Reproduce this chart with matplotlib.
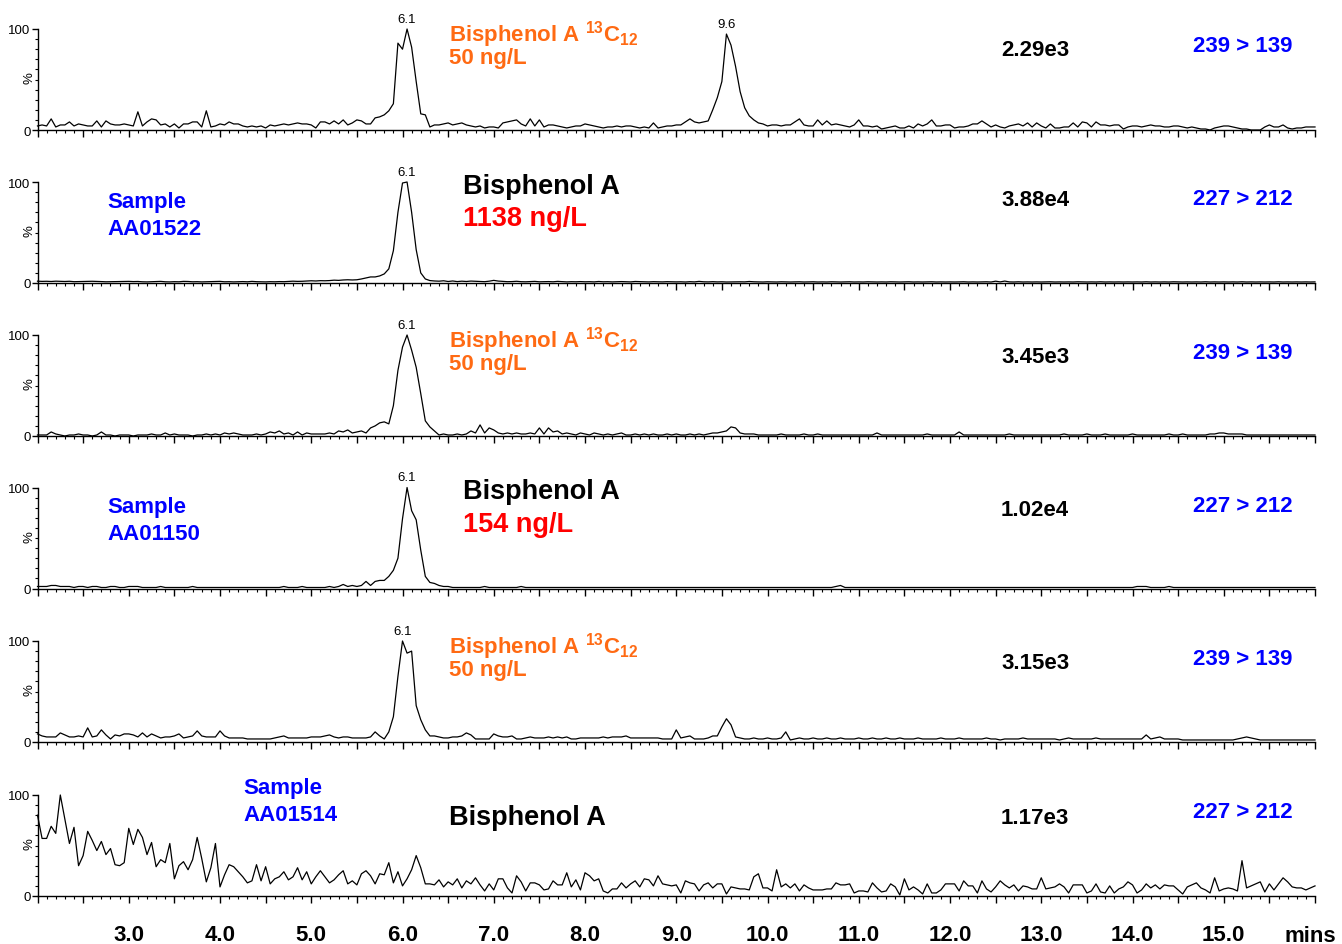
import numpy as np
import matplotlib
matplotlib.use("Agg")
import matplotlib.pyplot as plt
from matplotlib.ticker import MultipleLocator, FuncFormatter

plt.rcParams["font.family"] = ["Liberation Sans", "DejaVu Sans"]
plt.rcParams["mathtext.fontset"] = "custom"
plt.rcParams["mathtext.rm"] = "Liberation Sans:bold"
plt.rcParams["mathtext.default"] = "rm"

# retention time axis, one reading every 0.05 min
TIME = np.round(np.arange(281) * 0.05 + 2.0, 2)

# relative intensity (%) of each channel, one row per minute
TRACE_1 = [
    4, 5, 4, 11, 3, 5, 5, 8, 4, 6, 5, 4, 4, 9, 3, 9, 6, 5, 5, 6,
    5, 4, 18, 4, 8, 11, 10, 5, 6, 3, 6, 2, 6, 6, 8, 8, 3, 19, 3, 4,
    6, 5, 8, 6, 6, 4, 3, 4, 3, 4, 2, 5, 4, 5, 6, 5, 6, 7, 6, 6,
    5, 2, 8, 8, 6, 9, 6, 10, 5, 7, 10, 9, 6, 6, 12, 13, 15, 19, 26, 86,
    80, 100, 82, 48, 16, 15, 3, 5, 5, 6, 7, 5, 6, 7, 5, 4, 3, 4, 2, 3,
    3, 2, 7, 8, 9, 10, 6, 4, 11, 4, 10, 3, 5, 5, 4, 3, 2, 3, 4, 4,
    6, 5, 4, 3, 2, 3, 3, 4, 3, 4, 4, 3, 2, 3, 2, 7, 2, 3, 4, 4,
    5, 5, 8, 11, 8, 7, 8, 9, 20, 32, 48, 95, 84, 63, 38, 22, 14, 10, 7, 6,
    4, 5, 5, 4, 5, 5, 8, 11, 5, 4, 4, 10, 5, 9, 5, 6, 5, 4, 3, 5,
    10, 4, 4, 3, 4, 1, 2, 3, 4, 2, 2, 4, 2, 6, 4, 6, 10, 4, 4, 5,
    5, 2, 3, 3, 4, 6, 6, 9, 6, 3, 5, 3, 2, 4, 5, 6, 4, 7, 3, 7,
    4, 2, 6, 2, 2, 3, 3, 7, 3, 8, 7, 3, 8, 5, 5, 4, 5, 5, 1, 3,
    4, 4, 3, 4, 5, 4, 4, 3, 3, 4, 4, 3, 2, 3, 2, 1, 1, 0, 2, 3,
    4, 4, 3, 2, 1, 1, 0, 0, 0, 3, 5, 3, 3, 5, 2, 1, 2, 2, 3, 3,
    3,
]

TRACE_2 = [
    1.8, 1.6, 1.7, 1.5, 1.8, 1.6, 1.5, 1.7, 1.3, 1.4, 1.6, 1.5, 1.7, 1.6, 1.4, 1.2, 1.3, 1.4, 1.6, 1.5,
    1.6, 1.4, 1.5, 1.2, 1.1, 1.3, 1.5, 1.6, 1.2, 1.1, 1.3, 1.2, 1.6, 1.5, 1.2, 1.3, 1.1, 1.2, 1.3, 1.5,
    1.6, 1.2, 1.3, 1.1, 1.2, 1.4, 1.2, 1.6, 1.3, 1.2, 1.1, 1.3, 1.2, 1.4, 1.3, 1.5, 1.8, 1.6, 1.7, 2.0,
    2.2, 2.0, 2.3, 2.2, 2.4, 2.8, 2.6, 3.0, 3.2, 3.0, 3.2, 4, 5, 6, 6, 7, 9, 14, 32, 70,
    99, 100, 70, 33, 10, 4, 2.4, 2.0, 1.8, 2.2, 1.5, 2.0, 1.4, 1.8, 1.5, 1.9, 1.7, 1.4, 1.3, 1.8,
    2.6, 1.9, 1.6, 1.3, 1.4, 1.7, 1.3, 1.2, 1.4, 1.6, 1.2, 1.3, 1.4, 1.2, 1.6, 1.3, 1.1, 1.3, 1.2, 1.4,
    1.2, 1.3, 1.1, 1.5, 1.2, 1.3, 1.1, 1.2, 1.4, 1.2, 1.1, 1.5, 1.3, 1.2, 1.1, 1.3, 1.2, 1.1, 1.3, 1.2,
    1.1, 1.2, 1.0, 1.3, 1.1, 1.6, 1.2, 1.1, 1.3, 1.1, 1.2, 1.0, 1.1, 1.3, 1.2, 1.1, 1.5, 1.2, 1.1, 1.0,
    1.2, 1.1, 1.0, 1.2, 1.1, 1.0, 1.1, 1.2, 1.0, 1.1, 1.2, 1.0, 1.1, 1.0, 1.2, 1.1, 1.0, 1.1, 1.2, 1.0,
    1.1, 1.0, 1.2, 1.1, 1.0, 1.1, 1.0, 1.2, 1.1, 1.0, 1.1, 1.2, 1.0, 1.1, 1.0, 1.1, 1.2, 1.0, 1.1, 1.0,
    1.1, 1.0, 1.1, 1.2, 1.0, 1.1, 1.0, 1.1, 1.2, 1.0, 1.8, 1.1, 1.9, 1.1, 1.0, 1.2, 1.0, 1.1, 1.0, 1.1,
    1.0, 1.1, 1.2, 1.0, 1.1, 1.0, 1.1, 1.0, 1.2, 1.1, 1.0, 1.1, 1.0, 1.2, 1.0, 1.1, 1.0, 1.1, 1.0, 1.1,
    1.0, 1.1, 1.0, 1.2, 1.0, 1.1, 1.0, 1.1, 1.0, 1.2, 1.1, 1.0, 1.1, 1.0, 1.1, 1.0, 1.2, 1.0, 1.1, 1.0,
    1.1, 1.0, 1.1, 1.0, 1.2, 1.0, 1.1, 1.0, 1.1, 1.0, 1.1, 1.0, 1.2, 1.0, 1.1, 1.0, 1.1, 1.0, 1.1, 1.0,
    1.1,
]

TRACE_3 = [
    1, 1, 1, 4, 2, 1, 0, 1, 1, 2, 1, 1, 0, 1, 4, 1, 1, 0, 1, 1,
    1, 0, 1, 1, 1, 2, 1, 1, 3, 1, 2, 1, 1, 1, 0, 1, 1, 2, 1, 2,
    1, 3, 2, 3, 2, 1, 1, 1, 2, 1, 2, 4, 3, 5, 2, 3, 1, 4, 1, 3,
    2, 2, 2, 2, 3, 2, 5, 4, 6, 3, 4, 5, 3, 8, 10, 13, 14, 12, 30, 65,
    88, 100, 85, 68, 42, 15, 9, 5, 1, 2, 1, 1, 2, 1, 2, 5, 3, 11, 3, 8,
    6, 3, 2, 3, 2, 3, 2, 2, 3, 2, 8, 2, 8, 4, 5, 2, 3, 2, 1, 3,
    2, 1, 3, 2, 1, 2, 1, 2, 3, 1, 1, 2, 1, 2, 1, 2, 1, 1, 2, 1,
    2, 1, 1, 2, 1, 2, 1, 2, 3, 3, 4, 5, 9, 8, 3, 2, 2, 2, 1, 1,
    1, 1, 1, 2, 1, 1, 1, 1, 2, 1, 1, 2, 1, 1, 1, 1, 1, 1, 1, 1,
    1, 1, 1, 1, 3, 1, 1, 1, 1, 1, 1, 1, 1, 1, 1, 2, 1, 1, 1, 1,
    1, 1, 4, 1, 1, 1, 1, 1, 1, 1, 1, 1, 1, 2, 1, 1, 1, 1, 1, 1,
    1, 1, 1, 1, 1, 2, 1, 1, 1, 1, 2, 1, 1, 1, 2, 1, 1, 1, 1, 1,
    2, 1, 1, 1, 1, 1, 1, 1, 2, 1, 1, 2, 1, 1, 1, 1, 1, 2, 2, 3,
    3, 2, 2, 2, 2, 1, 1, 1, 1, 1, 1, 1, 1, 1, 1, 1, 1, 1, 1, 1,
    1,
]

TRACE_4 = [
    2, 2, 2, 3, 3, 2, 2, 2, 1, 2, 2, 1, 2, 2, 1, 1, 2, 2, 1, 1,
    2, 2, 2, 1, 1, 1, 1, 2, 1, 1, 1, 1, 1, 1, 2, 1, 1, 1, 1, 1,
    1, 1, 1, 1, 1, 1, 1, 1, 1, 1, 1, 1, 1, 1, 2, 1, 1, 1, 2, 1,
    1, 1, 1, 1, 2, 1, 2, 4, 2, 3, 2, 3, 7, 3, 7, 8, 8, 12, 18, 30,
    69, 100, 77, 68, 38, 12, 6, 5, 3, 2, 2, 1, 1, 1, 1, 1, 1, 1, 2, 1,
    1, 1, 1, 1, 1, 1, 2, 1, 1, 1, 1, 1, 1, 1, 1, 1, 1, 1, 1, 1,
    1, 1, 1, 1, 1, 1, 1, 1, 1, 1, 1, 1, 1, 1, 1, 1, 1, 1, 1, 1,
    1, 1, 1, 1, 1, 1, 1, 1, 1, 1, 1, 1, 1, 1, 1, 1, 1, 1, 1, 1,
    1, 1, 1, 1, 1, 1, 1, 1, 1, 1, 1, 1, 1, 1, 1, 2, 3, 1, 1, 1,
    1, 1, 1, 1, 1, 1, 1, 1, 1, 1, 1, 1, 1, 1, 1, 1, 1, 1, 1, 1,
    1, 1, 1, 1, 1, 1, 1, 1, 1, 1, 1, 1, 1, 1, 1, 1, 1, 1, 1, 1,
    1, 1, 1, 1, 1, 1, 1, 1, 1, 1, 1, 1, 1, 1, 1, 1, 1, 1, 1, 1,
    1, 2, 2, 2, 1, 1, 1, 1, 2, 1, 1, 1, 1, 1, 1, 1, 1, 1, 1, 1,
    1, 1, 1, 1, 1, 1, 1, 1, 1, 1, 1, 1, 1, 1, 1, 1, 1, 1, 1, 1,
    1,
]

TRACE_5 = [
    8, 6, 5, 5, 5, 9, 7, 5, 5, 6, 5, 14, 5, 6, 12, 7, 3, 7, 6, 8,
    8, 7, 5, 9, 5, 8, 6, 4, 5, 5, 6, 8, 4, 5, 6, 11, 6, 5, 5, 5,
    11, 6, 4, 4, 4, 4, 3, 3, 3, 3, 3, 3, 4, 5, 6, 4, 4, 4, 4, 4,
    5, 5, 5, 6, 7, 5, 4, 5, 5, 4, 4, 4, 4, 5, 10, 6, 3, 10, 25, 65,
    100, 88, 90, 36, 22, 12, 6, 6, 5, 4, 4, 5, 5, 6, 9, 7, 3, 3, 3, 3,
    8, 6, 5, 5, 6, 3, 3, 4, 5, 4, 4, 4, 5, 4, 5, 4, 5, 3, 3, 4,
    4, 4, 4, 4, 5, 4, 5, 5, 5, 6, 4, 4, 4, 4, 4, 4, 4, 3, 3, 3,
    12, 4, 5, 6, 3, 3, 3, 4, 6, 6, 15, 23, 17, 5, 4, 3, 3, 4, 3, 3,
    4, 3, 3, 4, 10, 2, 3, 4, 3, 3, 4, 3, 3, 4, 3, 3, 4, 3, 3, 3,
    4, 3, 3, 4, 3, 3, 4, 3, 3, 4, 3, 3, 3, 4, 3, 3, 3, 3, 4, 3,
    3, 3, 4, 3, 3, 3, 3, 3, 4, 3, 3, 2, 3, 3, 3, 3, 4, 3, 3, 3,
    3, 3, 3, 3, 2, 3, 4, 3, 3, 3, 3, 3, 4, 3, 3, 3, 3, 3, 3, 3,
    3, 3, 3, 7, 3, 4, 5, 3, 3, 3, 3, 2, 2, 2, 2, 2, 2, 2, 2, 2,
    2, 2, 2, 3, 4, 5, 4, 3, 2, 2, 2, 2, 2, 2, 2, 2, 2, 2, 2, 2,
    2,
]

TRACE_6 = [
    80, 57, 57, 69, 62, 100, 76, 52, 68, 30, 40, 64, 55, 45, 54, 41, 47, 31, 30, 33,
    67, 51, 66, 58, 41, 53, 29, 36, 33, 52, 17, 30, 34, 26, 36, 58, 37, 14, 28, 52,
    9, 21, 31, 29, 24, 19, 13, 15, 31, 15, 29, 12, 17, 19, 24, 16, 19, 28, 16, 24,
    12, 19, 25, 19, 13, 16, 21, 25, 12, 15, 11, 22, 25, 20, 12, 22, 21, 33, 13, 24,
    10, 17, 26, 40, 28, 12, 12, 11, 16, 9, 14, 11, 17, 8, 15, 12, 18, 11, 5, 12,
    6, 17, 17, 8, 3, 20, 14, 5, 13, 13, 11, 6, 7, 15, 11, 11, 23, 9, 16, 6,
    23, 20, 15, 17, 5, 3, 7, 7, 13, 8, 12, 15, 9, 17, 16, 10, 20, 12, 11, 10,
    11, 3, 15, 13, 12, 5, 11, 13, 8, 12, 12, 2, 9, 8, 7, 7, 6, 19, 22, 8,
    8, 5, 26, 9, 12, 8, 12, 5, 11, 8, 6, 6, 6, 7, 7, 13, 11, 11, 12, 3,
    5, 5, 4, 13, 8, 4, 5, 12, 9, 1, 17, 6, 9, 6, 2, 12, 3, 3, 6, 12,
    12, 12, 5, 15, 10, 10, 3, 15, 7, 4, 9, 15, 11, 8, 11, 5, 10, 9, 7, 7,
    18, 7, 8, 9, 12, 9, 3, 11, 11, 11, 3, 5, 12, 4, 3, 10, 3, 7, 9, 14,
    11, 3, 6, 12, 8, 11, 7, 11, 10, 10, 6, 2, 9, 11, 13, 8, 6, 3, 18, 5,
    7, 8, 7, 5, 35, 8, 10, 12, 14, 4, 12, 6, 12, 18, 14, 9, 8, 8, 6, 8,
    10,
]

TRACES = [TRACE_1, TRACE_2, TRACE_3, TRACE_4, TRACE_5, TRACE_6]
TRANSITIONS = ["239 > 139", "227 > 212", "239 > 139", "227 > 212", "239 > 139", "227 > 212"]
INTENSITIES = ["2.29e3", "3.88e4", "3.45e3", "1.02e4", "3.15e3", "1.17e3"]
PEAK_LABELS = [["6.1", "9.6"], ["6.1"], ["6.1"], ["6.1"], ["6.1"], []]
SAMPLES = [None, "AA01522", None, "AA01150", None, "AA01514"]
COMPOUNDS = ["istd", "analyte", "istd", "analyte", "istd", "analyte"]
RESULTS = ["50 ng/L", "1138 ng/L", "50 ng/L", "154 ng/L", "50 ng/L", None]

ORANGE = "#ff6a13"
BLUE = "#0000ff"
RED = "#ff0000"

W, H = 1342, 945
ZERO_ROWS = [131, 284, 437, 589.5, 743, 897]
PANEL_H = 101
AX_LEFT, AX_RIGHT = 37.5, 1315
# vertical offsets (px below panel top) of the right-hand annotations
INT_DY = [18, 15, 19, 19.5, 19, 20]
TRN_DY = [14, 14, 15, 15.5, 15, 14]


def put(x, y, s, **kw):
    # place text by pixel position on the page
    kw.setdefault("va", "center")
    fig.text(x / W, 1 - (y + 2.5) / H, s, **kw)


fig = plt.figure(figsize=(W / 100, H / 100), dpi=100)

for i, trace in enumerate(TRACES):
    zero = ZERO_ROWS[i]
    ax = fig.add_axes([AX_LEFT / W, 1 - zero / H,
                       (AX_RIGHT - AX_LEFT) / W, PANEL_H / H])
    ax.plot(TIME, trace, color="black", lw=0.9, clip_on=False)
    ax.set_xlim(2.0, 16.0)
    ax.set_ylim(0, 100)

    for side in ["top", "right"]:
        ax.spines[side].set_visible(False)
    ax.spines["left"].set_linewidth(1.0)
    ax.spines["bottom"].set_linewidth(1.0)

    ax.xaxis.set_major_locator(MultipleLocator(0.5))
    ax.xaxis.set_minor_locator(MultipleLocator(0.1))
    ax.tick_params(axis="x", which="major", direction="out", length=5, width=1)
    ax.tick_params(axis="x", which="minor", direction="out", length=2.5, width=0.8)

    ax.set_yticks([0, 100])
    ax.set_yticklabels(["0", "100"])
    ax.yaxis.set_minor_locator(MultipleLocator(10))
    ax.tick_params(axis="y", which="major", length=4, width=1, pad=1, labelsize=9.5)
    ax.tick_params(axis="y", which="minor", length=2.5, width=0.8)
    ax.text(-0.006, 0.52, "%", transform=ax.transAxes, rotation=90,
            ha="center", va="center", fontsize=9.5)

    if i == len(TRACES) - 1:
        ax.xaxis.set_major_formatter(FuncFormatter(
            lambda v, p: f"{v:.1f}" if abs(v - round(v)) < 1e-6 and 3 <= v <= 15 else ""))
        ax.tick_params(axis="x", which="major", labelsize=16, pad=15.5)
        for lab in ax.get_xticklabels():
            lab.set_fontweight("bold")
    else:
        ax.tick_params(axis="x", labelbottom=False)

    # retention time above each labelled peak
    y_arr = np.array(trace, dtype=float)
    for lab in PEAK_LABELS[i]:
        rt = float(lab)
        win = np.abs(TIME - rt) <= 0.15
        idx = np.flatnonzero(win)[np.argmax(y_arr[win])]
        ax.annotate(lab, (TIME[idx], y_arr[idx]), xytext=(0, 3),
                    textcoords="offset points", ha="center", va="bottom",
                    fontsize=9.5, annotation_clip=False)

    top = zero - PANEL_H
    put(1035, top + INT_DY[i], INTENSITIES[i], ha="center",
        fontsize=16, fontweight="bold")
    put(1243, top + TRN_DY[i], TRANSITIONS[i], ha="center",
        fontsize=16, fontweight="bold", color=BLUE)

    if COMPOUNDS[i] == "istd":
        put(449, top + 2, r"Bisphenol A $^{13}$C$_{12}$", ha="left",
            fontsize=16, fontweight="bold", color=ORANGE)
        put(449, top + 26, RESULTS[i], ha="left",
            fontsize=16, fontweight="bold", color=ORANGE)
    else:
        if RESULTS[i] is not None:
            put(463, top + 1, "Bisphenol A", ha="left",
                fontsize=19.5, fontweight="bold")
            put(463, top + 34, RESULTS[i], ha="left",
                fontsize=19.5, fontweight="bold", color=RED)
        else:
            put(449, top + 20, "Bisphenol A", ha="left",
                fontsize=19.5, fontweight="bold")

    if SAMPLES[i] is not None:
        sx = 243 if i == 5 else 107
        sy = top - 10 if i == 5 else top + 17
        put(sx, sy, "Sample", ha="left", fontsize=16,
            fontweight="bold", color=BLUE)
        put(sx, sy + 27, SAMPLES[i], ha="left", fontsize=16,
            fontweight="bold", color=BLUE)

put(1310, 934, "mins", ha="center", fontsize=16, fontweight="bold")

fig.savefig("out.png", dpi=100)
